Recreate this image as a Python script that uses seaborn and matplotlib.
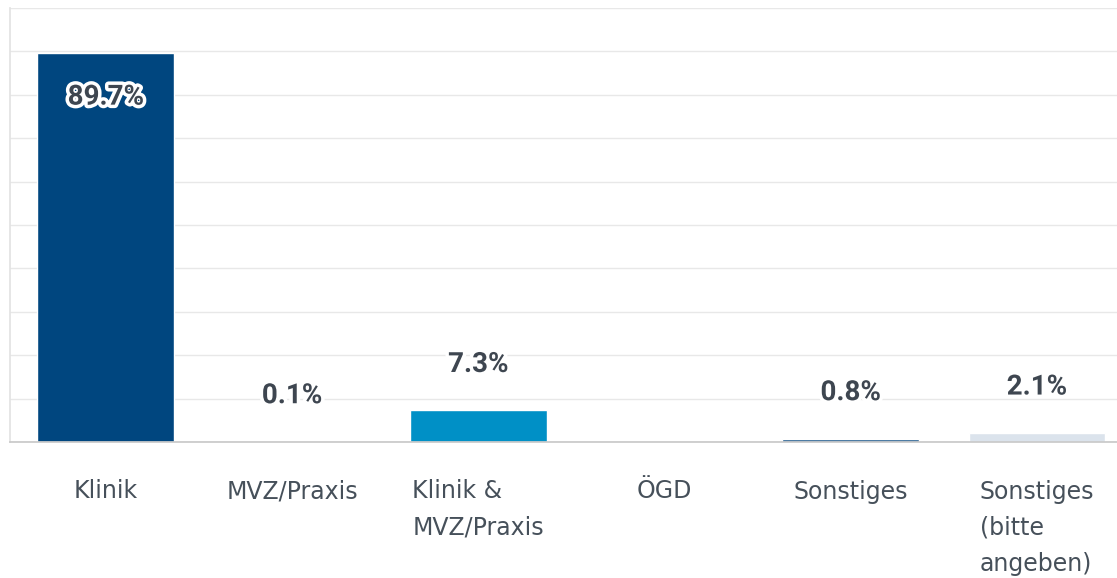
import numpy as np
import pandas as pd
import matplotlib
matplotlib.use("Agg")
import matplotlib.pyplot as plt
import matplotlib.patheffects as pe
import seaborn as sns

sns.set_theme(style="white")
plt.rcParams['font.family'] = ['Roboto', 'DejaVu Sans']

#%% DATA
categories = ["Klinik", "MVZ/Praxis", "Klinik &\nMVZ/Praxis", "ÖGD", "Sonstiges",
              "Sonstiges\n(bitte\nangeben)"]
values = [89.7, 0.1, 7.3, 0.0, 0.8, 2.1]
bar_colors = ["#00467f", "#1e5f94", "#0090c6", "#1e5f94", "#245d8e", "#dbe3ec"]

df = pd.DataFrame({"cat": categories, "val": values})

#%% PLOT
fig = plt.figure(figsize=(11.17, 5.78), dpi=100)
ax = fig.add_axes([10 / 1117, 136 / 578, 1 - 10 / 1117, 434 / 578])

sns.barplot(data=df, x="cat", y="val", hue="cat", palette=bar_colors,
            legend=False, width=0.735, saturation=1, ax=ax, zorder=2)

ax.set_ylim(0, 100)
ax.set_xlim(-0.515, 5.43)
ax.set_yticks(np.arange(0, 101, 10))
ax.set_yticklabels([])
ax.yaxis.grid(True, color="#e8e8e8", linewidth=1, zorder=0)
ax.set_axisbelow(True)
ax.tick_params(axis="y", length=0)
ax.tick_params(axis="x", length=0, pad=27)
ax.set_xlabel("")
ax.set_ylabel("")

for side in ["top", "right"]:
    ax.spines[side].set_visible(False)
ax.spines["left"].set_color("#e3e3e3")
ax.spines["bottom"].set_color("#c9c9c9")

ax.set_xticks(range(len(categories)))
ax.set_xticklabels(categories, fontsize=17, color="#46505a",
                   linespacing=1.65, multialignment="left", va="top",
                   family=["DejaVu Sans"])

# value labels above the bars, inside for the tall one
txt_color = "#3e4650"
stroke = [pe.withStroke(linewidth=5, foreground="white")]
for i, v in enumerate(values):
    if v <= 0:
        continue
    off = -32 if v > 80 else 33
    ax.annotate(f"{v}%", xy=(i, v), xytext=(0, off), textcoords="offset points",
                ha="center", va="center", fontsize=20, fontweight="bold",
                color=txt_color, path_effects=stroke, zorder=5)

plt.savefig("out.png", dpi=100)
